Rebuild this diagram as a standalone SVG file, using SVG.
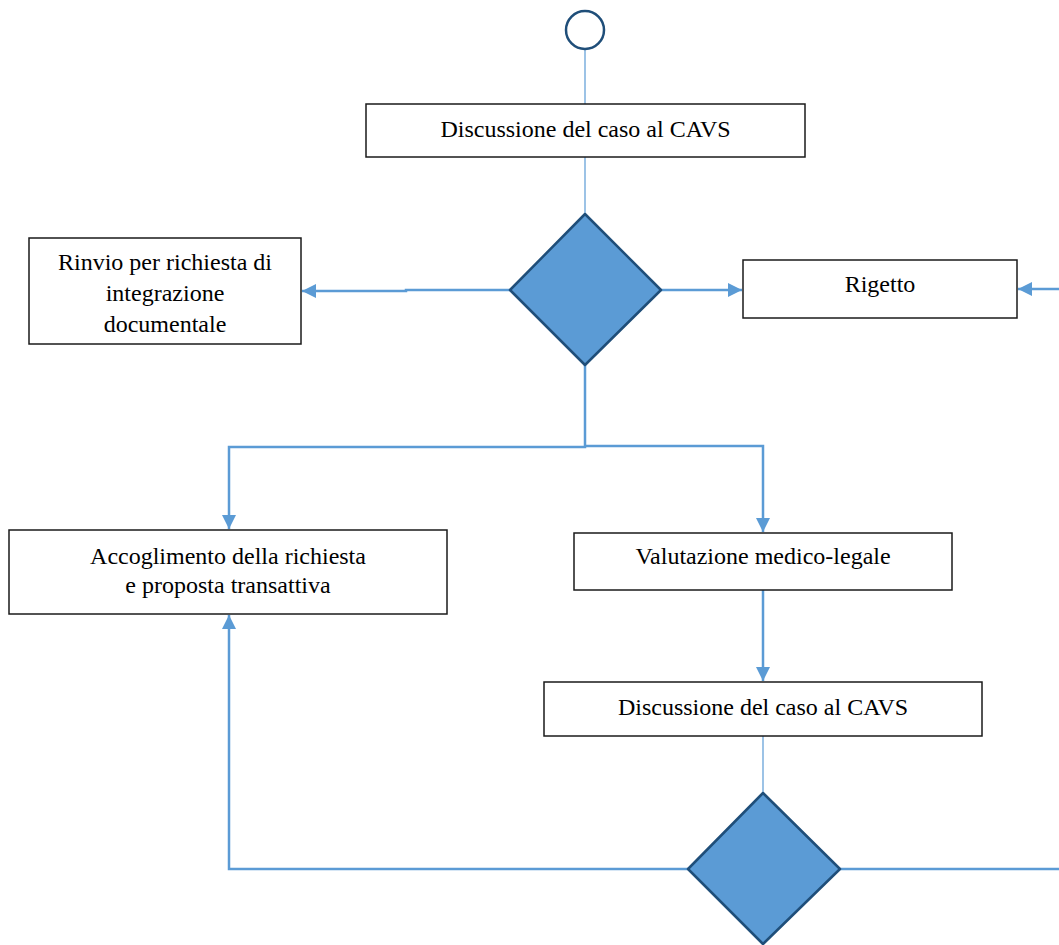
<svg xmlns="http://www.w3.org/2000/svg" width="1059" height="945" viewBox="0 0 1059 945">
<defs>
<style>
.box{fill:#fff;stroke:#1a1a1a;stroke-width:1.5}
.dia{fill:#5b9bd5;stroke:#1f4e79;stroke-width:2.5;stroke-linejoin:round}
.t{font-family:"Liberation Serif","Times New Roman",serif;font-size:24px;fill:#000;text-anchor:middle}
.c{fill:none;stroke:#5b9bd5;stroke-width:2.5}
.thin{fill:none;stroke:#5b9bd5;stroke-width:1.2}
</style>
<marker id="arr" viewBox="0 0 10 10" refX="10" refY="5" markerWidth="5.6" markerHeight="5.6" orient="auto" markerUnits="strokeWidth">
<path d="M0,0 L10,5 L0,10 z" fill="#5b9bd5"/>
</marker>
</defs>
<rect width="1059" height="945" fill="#fff"/>
<g id="connectors">
<line class="thin" x1="585" y1="49" x2="585" y2="104"/>
<line class="thin" x1="585" y1="157" x2="585" y2="214"/>
<path class="c" d="M510,290 L406,290 L406,291 L302,291" marker-end="url(#arr)"/>
<path class="c" d="M661,290 L702,290 L742,290" marker-end="url(#arr)"/>
<path class="c" d="M1059,289 L1018,289" marker-end="url(#arr)"/>
<path class="c" d="M585,365 L585,447 L229,447 L229,529" marker-end="url(#arr)"/>
<path class="c" d="M585,446 L763,446 L763,532" marker-end="url(#arr)"/>
<path class="c" d="M763,590 L763,681" marker-end="url(#arr)"/>
<line class="thin" x1="763" y1="736" x2="763" y2="793"/>
<path class="c" d="M688,869 L229,869 L229,615" marker-end="url(#arr)"/>
<path class="c" d="M840,869 L1059,869"/>
</g>
<g id="start">
<circle cx="585" cy="30" r="19" fill="#fff" stroke="#1f4e79" stroke-width="2.5"/>
</g>
<g id="n1">
<rect class="box" x="366" y="104" width="439" height="53"/>
<text class="t" x="585.5" y="137">Discussione del caso al CAVS</text>
</g>
<g id="d1">
<polygon class="dia" points="585,214 661,290 585,365 510,290"/>
</g>
<g id="n2">
<rect class="box" x="29" y="238" width="272" height="106"/>
<text class="t" x="165" y="270">Rinvio per richiesta di</text>
<text class="t" x="165" y="301">integrazione</text>
<text class="t" x="165" y="332">documentale</text>
</g>
<g id="n3">
<rect class="box" x="743" y="260" width="274" height="58"/>
<text class="t" x="880" y="292">Rigetto</text>
</g>
<g id="n4">
<rect class="box" x="9" y="530" width="438" height="84"/>
<text class="t" x="228" y="564">Accoglimento della richiesta</text>
<text class="t" x="228" y="593">e proposta transattiva</text>
</g>
<g id="n5">
<rect class="box" x="574" y="533" width="378" height="57"/>
<text class="t" x="763" y="564">Valutazione medico-legale</text>
</g>
<g id="n6">
<rect class="box" x="544" y="682" width="438" height="54"/>
<text class="t" x="763" y="715">Discussione del caso al CAVS</text>
</g>
<g id="d2">
<polygon class="dia" points="763,793 840,869 763,944 688,869"/>
</g>
</svg>
